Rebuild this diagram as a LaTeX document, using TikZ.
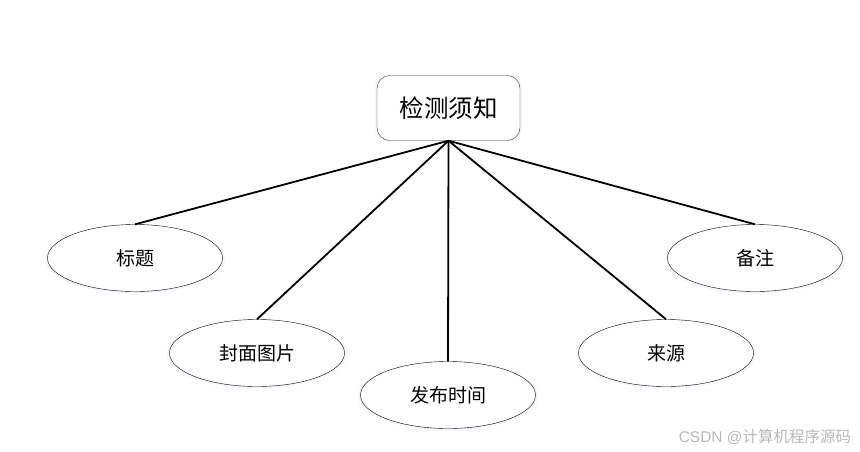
\documentclass[tikz,border=0pt]{standalone}
\usepackage{fontspec}
\newfontfamily\cjk{Noto Sans CJK SC}
\setmainfont{Liberation Sans}
\usetikzlibrary{shapes.geometric,shadows}
\begin{document}
\begin{tikzpicture}[x=1pt,y=-1pt]
\tikzset{every node/.style={inner sep=0pt,font=\cjk},
  topbox/.style={draw=black!80,rounded corners=13pt,fill=white,minimum width=143pt,minimum height=65pt,font=\cjk\fontsize{24.5}{24.5}\selectfont,
    general shadow={fill=blue!4,shadow scale=1.03}},
  leaf/.style={draw,ellipse,fill=white,minimum width=175pt,minimum height=67pt,font=\cjk\fontsize{19}{19}\selectfont,
    general shadow={fill=blue!4,shadow scale=1.03,shadow yshift=-1pt}},
  link/.style={line width=1.8pt}}
\useasboundingbox (0,0) rectangle (860,451);
\node [topbox] (top) at (448.5,108) {检测须知};
\node [leaf] (title) at (135,258) {标题};
\node [leaf] (cover) at (257,353) {封面图片};
\node [leaf] (time) at (448,395) {发布时间};
\node [leaf] (source) at (666,353) {来源};
\node [leaf] (note) at (755,258) {备注};
\draw [link] (top.south) -- (title.north);
\draw [link] (top.south) -- (cover.north);
\draw [link] (top.south) -- (time.north);
\draw [link] (top.south) -- (source.north);
\draw [link] (top.south) -- (note.north);
\node [text=black!28,font=\fontsize{15.5}{15.5}\selectfont] (mark) at (765,437) {CSDN @{\cjk 计算机程序源码}};
\end{tikzpicture}
\end{document}
